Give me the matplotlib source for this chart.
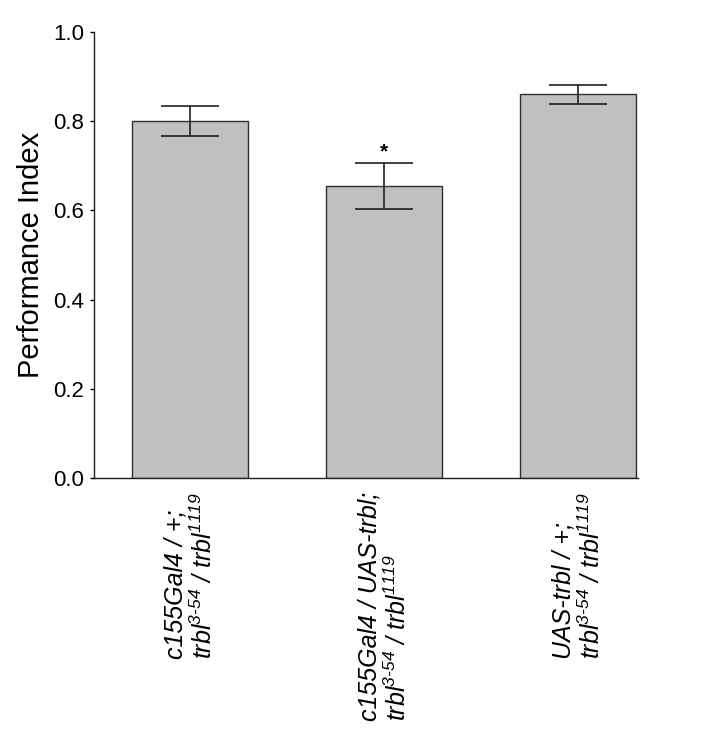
import matplotlib
matplotlib.use("Agg")
import matplotlib.pyplot as plt

plt.rcParams['font.family'] = ['Liberation Sans', 'DejaVu Sans']
plt.rcParams['mathtext.fontset'] = 'custom'
plt.rcParams['mathtext.rm'] = 'Liberation Sans:italic'
plt.rcParams['mathtext.it'] = 'Liberation Sans:italic'
plt.rcParams['mathtext.bf'] = 'Liberation Sans:bold'
plt.rcParams['mathtext.default'] = 'it'

sup_a = "$^{\\mathit{3}\\text{-}\\mathit{54}}$"
sup_b = "$^{\\mathit{1119}}$"
categories = [
    "c155Gal4 / +;\ntrbl" + sup_a + " / trbl" + sup_b,
    "c155Gal4 / UAS-trbl;\ntrbl" + sup_a + " / trbl" + sup_b,
    "UAS-trbl / +;\ntrbl" + sup_a + " / trbl" + sup_b,
]
values = [0.800, 0.655, 0.860]
errors = [0.033, 0.052, 0.022]
significance = ["", "*", ""]
yticks = [0.0, 0.2, 0.4, 0.6, 0.8, 1.0]

fig = plt.figure(figsize=(7.04, 7.40), dpi=100)
ax = fig.add_axes([94/704, 1 - 478/740, (638-94)/704, (478-32)/740])

x = list(range(len(values)))
ax.bar(x, values, width=0.6, color='#c0c0c0', edgecolor='#303030', linewidth=1.0, zorder=2)
ax.errorbar(x, values, yerr=errors, fmt='none', ecolor='#202020', elinewidth=1.2,
            capsize=21, capthick=1.2, zorder=3)
for xi, v, e, s in zip(x, values, errors, significance):
    if s:
        ax.text(xi, v + e + 0.004, s, ha='center', va='bottom', fontsize=15, fontweight='bold')

ax.set_xlim(-0.496, 2.31)
ax.set_ylim(0, 1.0)
ax.set_yticks(yticks)
ax.set_yticklabels([f"{t:.1f}" for t in yticks], fontsize=16)
ax.set_xticks(x)
ax.set_xticklabels(categories, rotation=90, fontsize=18, fontstyle='italic',
                   va='top', ha='center', multialignment='left', linespacing=1.15)
ax.tick_params(axis='x', length=0, pad=10)
ax.tick_params(axis='y', length=3, width=1, direction='out', pad=4)
ax.set_ylabel("Performance Index", fontsize=21, labelpad=6)
for sp in ['top', 'right']:
    ax.spines[sp].set_visible(False)
for sp in ['left', 'bottom']:
    ax.spines[sp].set_linewidth(1.0)
    ax.spines[sp].set_color('#202020')

fig.savefig("out.png", dpi=100)
